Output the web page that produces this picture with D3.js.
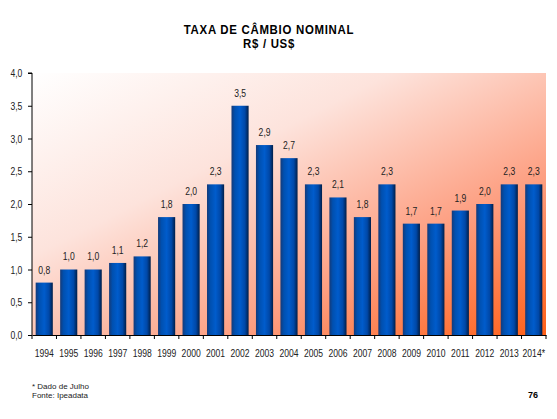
<!DOCTYPE html>
<html>
<head>
    <script src="https://cdnjs.cloudflare.com/ajax/libs/d3/7.8.5/d3.min.js"></script>
    <style>
        body { margin: 0; background: #fff; }
        text { font-family: "Liberation Sans", Arial, sans-serif; }
        .narrow { transform-box: fill-box; transform-origin: center; transform: scaleX(0.78); }
        .title { transform-box: fill-box; transform-origin: center; transform: scaleX(0.88); }
    </style>
</head>
<body>
    <svg id="chart" width="557" height="419"></svg>
    <script>
        var years = ["1994", "1995", "1996", "1997", "1998", "1999", "2000", "2001", "2002", "2003", "2004",
            "2005", "2006", "2007", "2008", "2009", "2010", "2011", "2012", "2013", "2014*"]
        var rates = [0.8, 1.0, 1.0, 1.1, 1.2, 1.8, 2.0, 2.3, 3.5, 2.9, 2.7, 2.3, 2.1, 1.8, 2.3, 1.7, 1.7, 1.9, 2.0, 2.3, 2.3]
        var yTicks = [0, 0.5, 1, 1.5, 2, 2.5, 3, 3.5, 4]

        var svg = d3.select("#chart")
        var fmt = d => d3.format(".1f")(d).replace(".", ",")

        var pLeft = 32, pRight = 546, pTop = 73, pBottom = 335

        var x = d3.scaleBand().domain(years).range([pLeft, pRight]).paddingInner(0.3).paddingOuter(0.15)
        var y = d3.scaleLinear().domain([0, 4]).range([pBottom, pTop])

        var defs = svg.append("defs")
        var bg = defs.append("linearGradient").attr("id", "bg")
            .attr("x1", "0").attr("y1", "0").attr("x2", "1").attr("y2", "1")
        bg.append("stop").attr("offset", "0%").attr("stop-color", "#ffffff")
        bg.append("stop").attr("offset", "35%").attr("stop-color", "#fde3dc")
        bg.append("stop").attr("offset", "70%").attr("stop-color", "#fd9e80")
        bg.append("stop").attr("offset", "100%").attr("stop-color", "#ff6018")

        var bar = defs.append("linearGradient").attr("id", "bar")
            .attr("x1", "0").attr("y1", "0").attr("x2", "1").attr("y2", "0")
        bar.append("stop").attr("offset", "0%").attr("stop-color", "#153a78")
        bar.append("stop").attr("offset", "20%").attr("stop-color", "#0050b0")
        bar.append("stop").attr("offset", "50%").attr("stop-color", "#005ccc")
        bar.append("stop").attr("offset", "78%").attr("stop-color", "#0048a8")
        bar.append("stop").attr("offset", "100%").attr("stop-color", "#001e48")

        svg.append("rect")
            .attr("x", pLeft).attr("y", pTop)
            .attr("width", pRight - pLeft).attr("height", pBottom - pTop)
            .style("fill", "url(#bg)")

        svg.append("text")
            .attr("class", "title")
            .attr("x", 269).attr("y", 34)
            .style("text-anchor", "middle").style("font-weight", "bold").style("font-size", "13px")
            .style("letter-spacing", "0.8px")
            .text("TAXA DE CÂMBIO NOMINAL")
        svg.append("text")
            .attr("class", "title")
            .attr("x", 269).attr("y", 48)
            .style("text-anchor", "middle").style("font-weight", "bold").style("font-size", "13px")
            .style("letter-spacing", "0.8px")
            .text("R$ / US$")

        svg.selectAll("rect.bar")
            .data(rates)
            .enter().append("rect")
            .attr("class", "bar")
            .attr("x", (d, i) => x(years[i]))
            .attr("y", d => y(d))
            .attr("width", x.bandwidth())
            .attr("height", d => pBottom - y(d))
            .style("fill", "url(#bar)")

        svg.selectAll("text.val")
            .data(rates)
            .enter().append("text")
            .attr("class", "val narrow")
            .attr("x", (d, i) => x(years[i]) + x.bandwidth() / 2)
            .attr("y", d => y(d) - 9)
            .style("text-anchor", "middle").style("font-size", "11px").style("fill", "#222")
            .text(fmt)

        var yAxis = svg.append("g")
            .attr("transform", `translate(${pLeft},0)`)
            .call(d3.axisLeft(y).tickValues(yTicks).tickFormat(fmt).tickSize(4).tickPadding(4))
        yAxis.selectAll("text").attr("class", "narrow").style("font-size", "11px").style("fill", "#222")
        yAxis.select(".domain").attr("d", `M-4,${pTop}H0V${pBottom}`).style("stroke", "#000")

        var xAxis = svg.append("g")
            .attr("transform", `translate(0,${pBottom})`)
            .call(d3.axisBottom(x).tickSize(0).tickPadding(14))
        xAxis.select(".domain").style("stroke", "#000")
        xAxis.selectAll("text").attr("class", "narrow").style("font-size", "11px").style("fill", "#222")
        xAxis.selectAll("line.sep")
            .data(d3.range(years.length + 1))
            .enter().append("line")
            .attr("class", "sep")
            .attr("x1", i => pLeft + i * x.step())
            .attr("x2", i => pLeft + i * x.step())
            .attr("y1", 0).attr("y2", 4)
            .style("stroke", "#000")

        svg.append("text")
            .attr("x", 32).attr("y", 389)
            .style("font-size", "8px").style("fill", "#222")
            .text("* Dado de Julho")
        svg.append("text")
            .attr("x", 32).attr("y", 398)
            .style("font-size", "8px").style("fill", "#222")
            .text("Fonte: Ipeadata")
        svg.append("text")
            .attr("x", 538).attr("y", 398)
            .style("text-anchor", "end").style("font-size", "9px").style("font-weight", "bold")
            .text("76")
    </script>
</body>
</html>
